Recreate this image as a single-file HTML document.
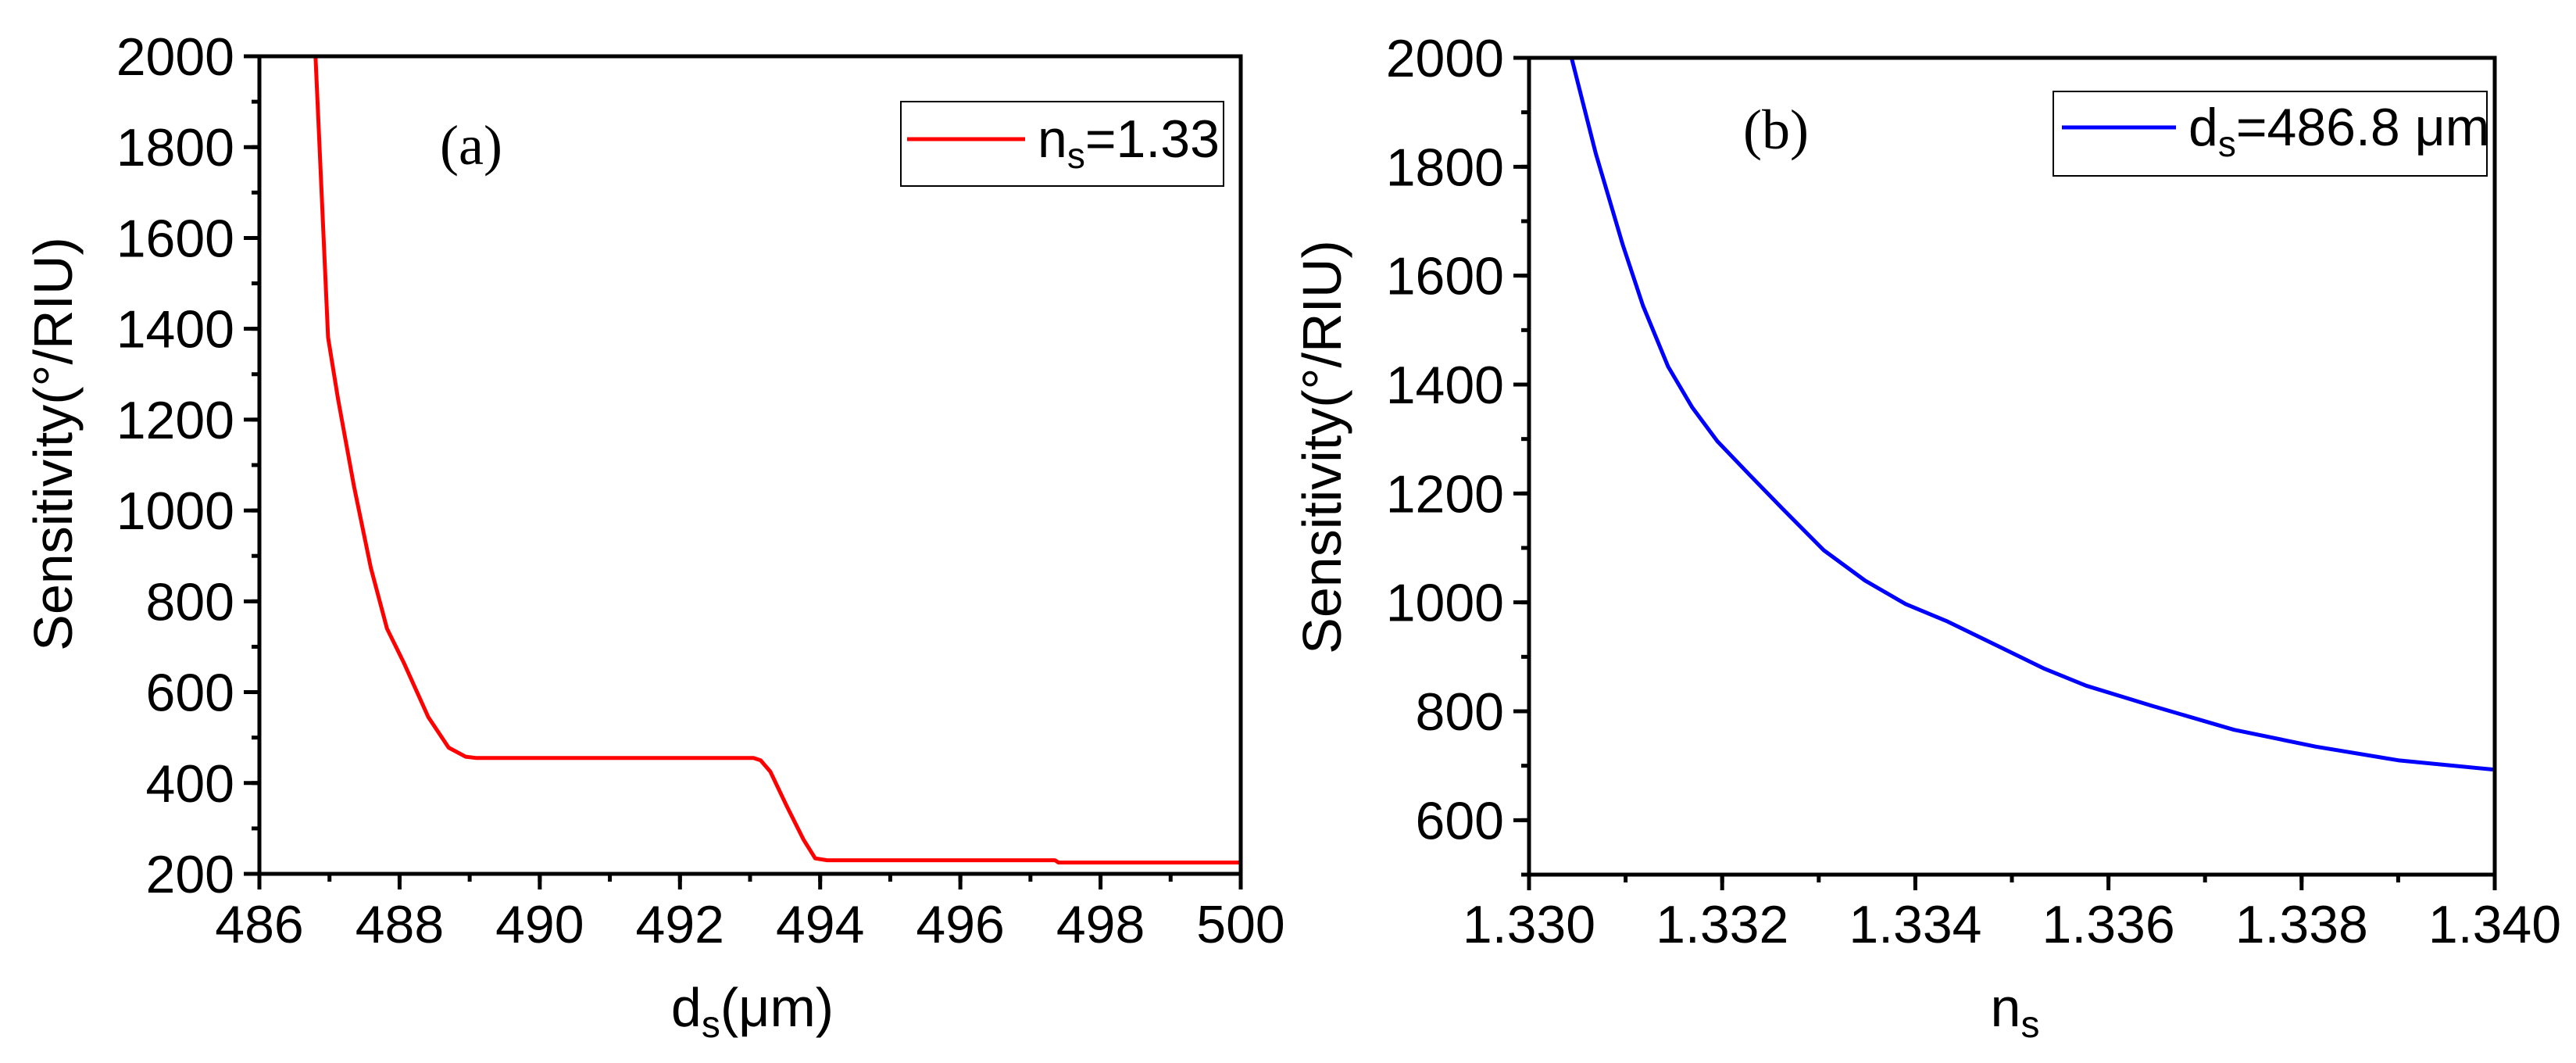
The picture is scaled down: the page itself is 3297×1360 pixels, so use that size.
<!DOCTYPE html>
<html><head><meta charset="utf-8"><style>
body{margin:0;background:#fff;}
svg{display:block;font-family:"Liberation Sans",sans-serif;}
</style></head><body>
<svg id="s" width="3297" height="1360" viewBox="0 0 3297 1360" xmlns="http://www.w3.org/2000/svg"></svg>
<script>
const aX=[486.8,486.98,487.12,487.35,487.59,487.82,488.06,488.41,488.7,488.94,489.1,493.05,493.15,493.29,493.52,493.76,493.93,494.1,497.35,497.4,500];
const aY=[2000,1381,1247,1053,874,740,665,545,478,458,455,455,450,425,350,276,234,230,230,225,225];
const bX=[1.33044,1.33069,1.33097,1.33118,1.33144,1.33169,1.33195,1.33229,1.33263,1.33305,1.33348,1.3339,1.33432,1.33483,1.33534,1.33577,1.33645,1.3373,1.33815,1.339,1.33998];
const bY=[2000,1825,1657,1545,1433,1358,1296,1233,1171,1096,1040,997,966,922,878,847,810,766,735,710,693];
const aXTicks=[486,488,490,492,494,496,498,500];
const aYTicks=[200,400,600,800,1000,1200,1400,1600,1800,2000];
const bXTicks=[1.330,1.332,1.334,1.336,1.338,1.340];
const bYTicks=[600,800,1000,1200,1400,1600,1800,2000];
const NS="http://www.w3.org/2000/svg";
const svg=document.getElementById('s');
function el(t,a,p){const e=document.createElementNS(NS,t);for(const k in a)e.setAttribute(k,a[k]);(p||svg).appendChild(e);return e;}
function panel(o){
  const g=el('g',{});
  
  
  const sx=v=>o.L+(v-o.x0)/(o.x1-o.x0)*(o.R-o.L);
  const sy=v=>o.B-(v-o.y0)/(o.y1-o.y0)*(o.B-o.T);
  for(let v=o.x0;v<=o.x1+1e-9;v+=o.xm){const x=sx(v);const t=el('line',{x1:x,x2:x,y1:o.B,y2:o.B+10,stroke:'#000','stroke-width':5},g);}
  for(let v=o.y0;v<=o.y1+1e-9;v+=o.ym){const y=sy(v);const t=el('line',{x1:o.L-10,x2:o.L,y1:y,y2:y,stroke:'#000','stroke-width':5},g);}
  o.xt.forEach(v=>{const x=sx(v);
    const t=el('line',{x1:x,x2:x,y1:o.B,y2:o.B+20,stroke:'#000','stroke-width':5},g);
    
    const l=el('text',{x:x,y:1206,'font-size':68,'text-anchor':'middle'},g);l.textContent=o.xf(v);
    });
  o.yt.forEach(v=>{const y=sy(v);
    const t=el('line',{x1:o.L-20,x2:o.L,y1:y,y2:y,stroke:'#000','stroke-width':5},g);
    
    const l=el('text',{x:o.L-32,y:y+24,'font-size':68,'text-anchor':'end'},g);l.textContent=String(v);
    });
  const d=o.xs.map((x,i)=>(i?'L':'M')+sx(x).toFixed(1)+','+sy(o.ys[i]).toFixed(1)).join(' ');
  const p=el('path',{d:d,fill:'none',stroke:o.color,'stroke-width':5,'stroke-linejoin':'round'},g);
  
  const fr=el('rect',{x:o.L,y:o.T,width:o.R-o.L,height:o.B-o.T,fill:'none',stroke:'#000','stroke-width':5},g);
  
  return g;
}
panel({name:'panel-a',L:332,R:1588,T:72,B:1118,x0:486,x1:500,y0:200,y1:2000,xm:1,ym:100,xt:aXTicks,yt:aYTicks,xf:v=>String(v),xs:aX,ys:aY,color:'#ff0000'});
panel({name:'panel-b',L:1957,R:3193,T:74,B:1119,x0:1.330,x1:1.340,y0:500,y1:2000,xm:0.001,ym:100,xt:bXTicks,yt:bYTicks,xf:v=>v.toFixed(3),xs:bX,ys:bY,color:'#0000ff'});
svg.insertAdjacentHTML('beforeend',`
<text x="963" y="1313" font-size="70" text-anchor="middle">d<tspan font-size="48" dy="14">s</tspan><tspan dy="-14">(μm)</tspan></text>
<text transform="translate(92,568) rotate(-90)" font-size="70" text-anchor="middle">Sensitivity(°/RIU)</text>
<text x="603" y="210" font-size="72" text-anchor="middle" font-family="Liberation Serif, serif">(a)</text>
<rect x="1153" y="130" width="413" height="108" fill="#fff" stroke="#000" stroke-width="2"/>
<line x1="1161" x2="1312" y1="178" y2="178" stroke="#ff0000" stroke-width="5"/>
<text x="1328" y="201" font-size="68">n<tspan font-size="46" dy="14">s</tspan><tspan dy="-14">=1.33</tspan></text>
<text x="2579" y="1313" font-size="70" text-anchor="middle">n<tspan font-size="48" dy="14">s</tspan></text>
<text transform="translate(1716,572) rotate(-90)" font-size="70" text-anchor="middle">Sensitivity(°/RIU)</text>
<text x="2273" y="190" font-size="72" text-anchor="middle" font-family="Liberation Serif, serif">(b)</text>
<rect x="2628" y="117" width="555" height="108" fill="#fff" stroke="#000" stroke-width="2"/>
<line x1="2639" x2="2785" y1="163" y2="163" stroke="#0000ff" stroke-width="5"/>
<text x="2801" y="186" font-size="68">d<tspan font-size="46" dy="14">s</tspan><tspan dy="-14">=486.8 μm</tspan></text>
`);
</script>
</body></html>
